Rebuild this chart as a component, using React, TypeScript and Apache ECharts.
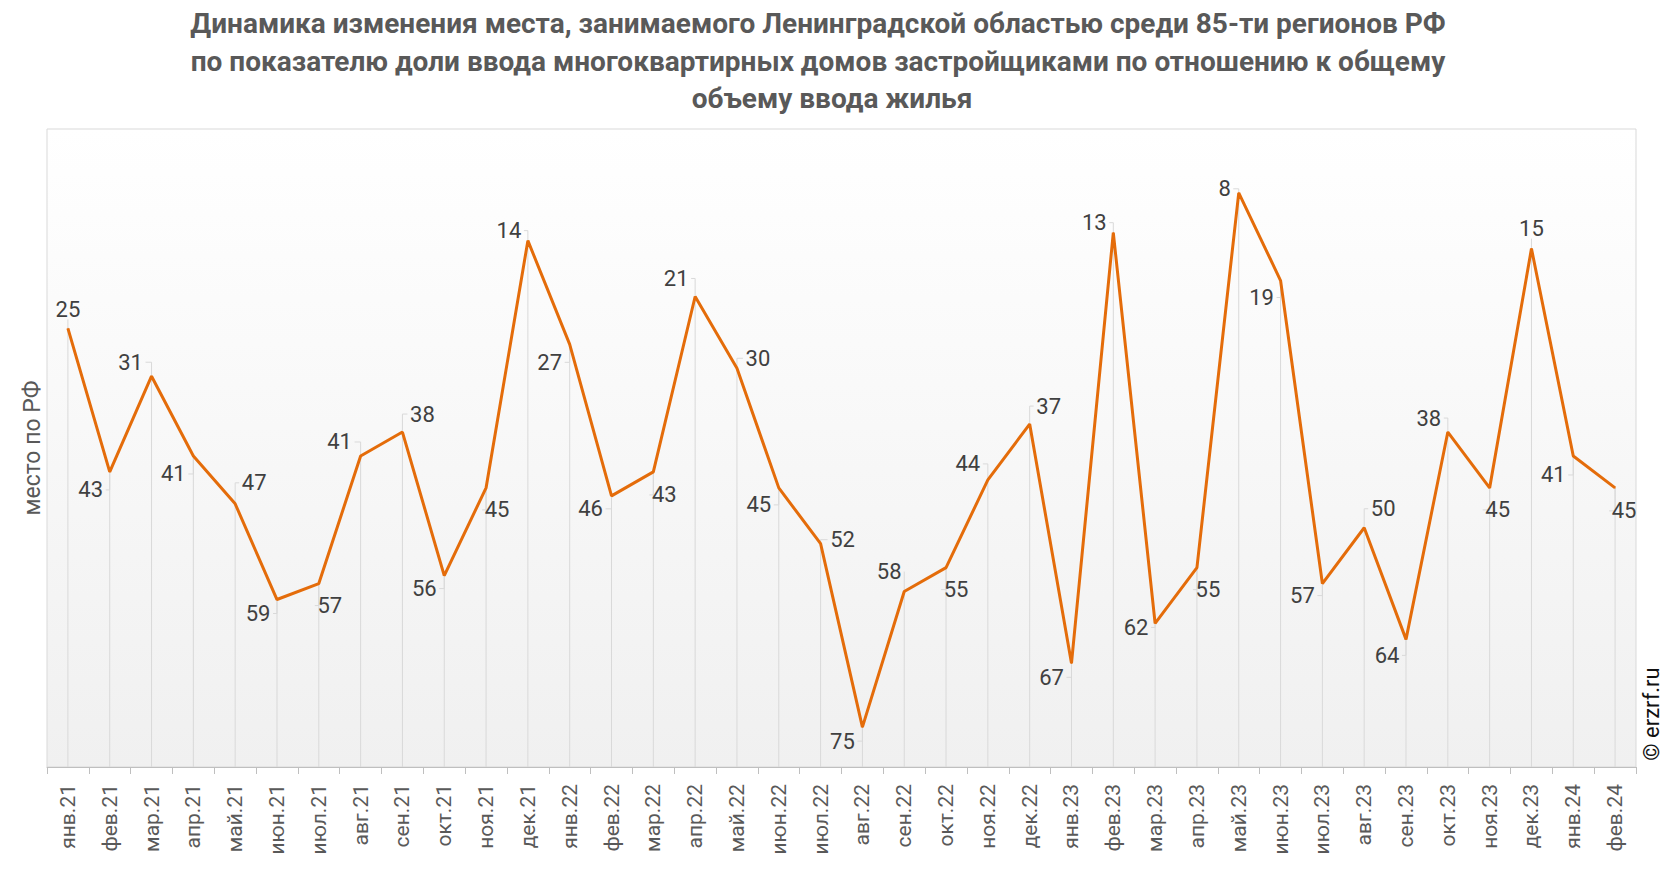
import React, { useEffect, useRef } from "react";
import * as echarts from "echarts";

const TITLE_LINES = [
  "Динамика изменения места, занимаемого Ленинградской областью среди 85-ти регионов РФ ",
  "по показателю доли ввода многоквартирных домов застройщиками по отношению к общему ",
  "объему ввода жилья",
];

const months = [
  "янв.21", "фев.21", "мар.21", "апр.21", "май.21", "июн.21", "июл.21", "авг.21", "сен.21", "окт.21", "ноя.21", "дек.21",
  "янв.22", "фев.22", "мар.22", "апр.22", "май.22", "июн.22", "июл.22", "авг.22", "сен.22", "окт.22", "ноя.22", "дек.22",
  "янв.23", "фев.23", "мар.23", "апр.23", "май.23", "июн.23", "июл.23", "авг.23", "сен.23", "окт.23", "ноя.23", "дек.23",
  "янв.24", "фев.24",
];

const places = [
  25, 43, 31, 41, 47, 59, 57, 41, 38, 56, 45, 14,
  27, 46, 43, 21, 30, 45, 52, 75, 58, 55, 44, 37,
  67, 13, 62, 55, 8, 19, 57, 50, 64, 38, 45, 15,
  41, 45,
];

const Y_MIN = 0;
const Y_MAX = 80;

// label placement (offset of label centre from its point, px)
const labelOffsets: number[][] = [
  [0, -19], [-19, 18], [-21, -14], [-20, 18], [19, -21], [-19, 14], [11, 22], [-21, -14], [20, -18], [-20, 13],
  [11, 22], [-19, -10], [-20, 18], [-21, 13], [11, 23], [-19, -18], [21, -10], [-20, 17], [22, -4], [-20, 14],
  [-15, -20], [10, 22], [-20, -16], [19, -18], [-20, 14], [-19, -10], [-19, 4], [11, 22], [-14, -4], [-19, 17],
  [-20, 12], [19, -19], [-19, 16], [-19, -14], [8, 22], [0, -20], [-20, 19], [9, 23],
];

// title line layout (centre x, centre y)
const titlePos = [
  [818, 23],
  [818, 61],
  [832, 98],
];

export default function App() {
  const ref = useRef<HTMLDivElement>(null);

  useEffect(() => {
    document.body.style.margin = "0";
    if (!ref.current) return;
    const chart = echarts.init(ref.current, undefined, { renderer: "svg" });

    const titleGraphics = TITLE_LINES.map((t, k) => ({
      type: "text",
      x: titlePos[k][0],
      y: titlePos[k][1],
      style: {
        text: t.trim(),
        fontSize: 28,
        fontWeight: "bold",
        fontFamily: "Roboto",
        fill: "#595959",
        align: "center",
        verticalAlign: "middle",
      },
    }));

    const option: any = {
      animation: false,
      backgroundColor: "#ffffff",
      grid: {
        left: 47,
        right: 30,
        top: 129,
        bottom: 105,
        show: true,
        borderColor: "#d9d9d9",
        borderWidth: 1,
        backgroundColor: {
          type: "linear",
          x: 0,
          y: 0,
          x2: 0,
          y2: 1,
          colorStops: [
            { offset: 0, color: "#ffffff" },
            { offset: 1, color: "#f0f0f0" },
          ],
        },
      },
      xAxis: {
        type: "category",
        data: months,
        boundaryGap: true,
        axisLine: { onZero: false, lineStyle: { color: "#bfbfbf", width: 1 } },
        axisTick: { show: true, length: 7, lineStyle: { color: "#bfbfbf" } },
        axisLabel: {
          rotate: 90,
          interval: 0,
          margin: 17,
          fontSize: 21,
          fontFamily: "Roboto",
          color: "#595959",
        },
        splitLine: { show: false },
      },
      yAxis: {
        type: "value",
        inverse: true,
        min: Y_MIN,
        max: Y_MAX,
        axisLine: { show: false },
        axisTick: { show: false },
        axisLabel: { show: false },
        splitLine: { show: false },
        name: "место по РФ",
        nameLocation: "middle",
        nameGap: 3,
        nameRotate: 90,
        nameTextStyle: { fontSize: 23, fontFamily: "Roboto", color: "#595959" },
      },
      graphic: [
        ...titleGraphics,
        {
          type: "text",
          x: 1651,
          y: 714,
          rotation: Math.PI / 2,
          style: {
            text: "© erzrf.ru",
            fontSize: 22,
            fontFamily: "Roboto",
            fill: "#111111",
            align: "center",
            verticalAlign: "middle",
          },
        },
      ],
      series: [
        {
          type: "custom",
          silent: true,
          z: 1,
          data: places.map((v, i) => [i, v]),
          renderItem: (params: any, api: any) => {
            const i = api.value(0);
            const v = api.value(1);
            const p = api.coord([i, v]);
            const b = api.coord([i, Y_MAX]);
            const off = labelOffsets[i] || [0, 0];
            const hw = String(places[i]).length * 6.5 + 2;
            const ly = p[1] + off[1];
            const children: any[] = [
              {
                type: "line",
                shape: { x1: p[0], y1: p[1], x2: b[0], y2: b[1] },
                style: { stroke: "#d9d9d9", lineWidth: 1 },
              },
            ];
            let pts: number[][];
            if (Math.abs(off[0]) > 5) {
              const ex = p[0] + off[0] - Math.sign(off[0]) * hw;
              pts = [
                [ex, ly],
                [p[0], ly],
                [p[0], p[1]],
              ];
            } else {
              const ey = ly - Math.sign(off[1]) * 10;
              pts = [
                [p[0], ey],
                [p[0], p[1]],
              ];
            }
            children.push({
              type: "polyline",
              shape: { points: pts },
              style: { stroke: "#d9d9d9", lineWidth: 1, fill: "none" },
            });
            return { type: "group", children };
          },
        },
        {
          type: "line",
          data: places,
          z: 3,
          symbol: "circle",
          symbolSize: 1,
          showSymbol: true,
          lineStyle: { color: "#E46C0A", width: 3 },
          itemStyle: { color: "#E46C0A" },
          label: {
            show: true,
            position: "inside",
            fontSize: 22,
            fontFamily: "Roboto",
            color: "#404040",
          },
          labelLayout: (params: any) => {
            const off = labelOffsets[params.dataIndex] || [0, 0];
            return { dx: off[0], dy: off[1] };
          },
        },
      ],
    };

    chart.setOption(option);
    return () => chart.dispose();
  }, []);

  return <div ref={ref} style={{ width: 1666, height: 872 }} />;
}
